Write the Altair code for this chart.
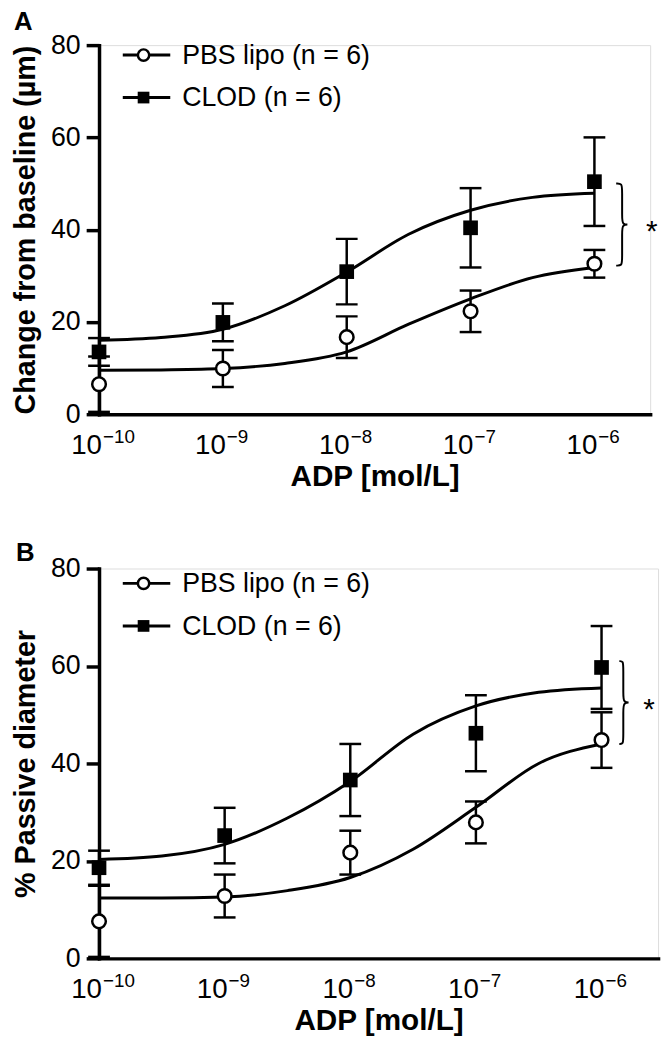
import altair as alt
import pandas as pd

# ---------------- data ----------------
adp_exponent = [-10, -9, -8, -7, -6]          # ADP = 10^exponent mol/L
fit_exponent = [-10, -9.5, -9, -8.5, -8, -7.5, -7, -6.5, -6]

# Panel A: change from baseline (um)
a_pbs_mean = [6.5, 9.9, 16.7, 22.3, 32.6]
a_pbs_sem = [6.0, 4.0, 4.5, 4.5, 3.0]
a_clod_mean = [13.5, 19.9, 30.9, 40.4, 50.4]
a_clod_sem = [3.0, 4.1, 7.1, 8.6, 9.6]
a_pbs_fit = [9.5, 9.6, 9.9, 11.0, 13.5, 19.5, 25.0, 29.6, 31.8]
a_clod_fit = [16.0, 16.6, 18.4, 23.5, 30.8, 39.0, 44.2, 47.0, 47.9]
a_brace = [32.2, 50.0]

# Panel B: % passive diameter
b_pbs_mean = [7.6, 12.8, 21.7, 27.9, 44.8]
b_pbs_sem = [7.3, 4.4, 4.5, 4.3, 5.7]
b_clod_mean = [18.6, 25.2, 36.6, 46.2, 59.7]
b_clod_sem = [3.5, 5.7, 7.4, 7.8, 8.5]
b_pbs_fit = [12.4, 12.4, 12.6, 13.9, 16.6, 22.4, 31.0, 40.0, 44.0]
b_clod_fit = [20.3, 21.0, 23.4, 28.8, 36.3, 46.0, 51.8, 54.6, 55.5]
b_brace = [44.0, 61.0]

series_labels = ["PBS lipo (n = 6)", "CLOD (n = 6)"]
tick_exponent = [-10, -9, -8, -7, -6]
tick_base = ["10", "10", "10", "10", "10"]
tick_power = ["\u221210", "\u22129", "\u22128", "\u22127", "\u22126"]
y_ticks = [0, 20, 40, 60, 80]

FONT = "Liberation Sans"
X_DOMAIN = [-10, -5.55]


def panel(letter, letter_pos, ytitle, pm, ps, cm, cs, pfit, cfit, brace, brace_px,
          w, h, leg_y):
    dec_px = w / (X_DOMAIN[1] - X_DOMAIN[0])
    xs = alt.Scale(domain=X_DOMAIN, nice=False, zero=False)
    ys = alt.Scale(domain=[0, 80], nice=False)
    xaxis = alt.Axis(title="ADP [mol/L]", labels=False, ticks=False, grid=False,
                     domainWidth=3.5, domainColor="black", domainCap="square",
                     titleFont=FONT, titleFontSize=30, titleFontWeight="bold",
                     titleColor="black", titlePadding=48)
    yaxis = alt.Axis(title=ytitle, values=y_ticks, grid=False, tickSize=13,
                     tickWidth=3.5, tickColor="black", domainWidth=3.5,
                     domainColor="black", domainCap="square", labelFont=FONT,
                     labelFontSize=27, labelColor="black", labelPadding=6,
                     titleFont=FONT, titleFontSize=29, titleFontWeight="bold",
                     titleColor="black", titlePadding=10)

    def X(f):
        return alt.X(f, type="quantitative", scale=xs, axis=xaxis)

    def Y(f):
        return alt.Y(f, type="quantitative", scale=ys, axis=yaxis)

    pts = pd.DataFrame({
        "x": adp_exponent * 2,
        "mean": pm + cm,
        "sem": ps + cs,
        "g": ["PBS"] * 5 + ["CLOD"] * 5,
    })
    pts["lo"] = pts["mean"] - pts["sem"]
    pts["hi"] = pts["mean"] + pts["sem"]
    fit = pd.DataFrame({
        "x": fit_exponent * 2,
        "y": pfit + cfit,
        "g": ["PBS"] * len(pfit) + ["CLOD"] * len(cfit),
    })

    err = alt.Chart(pts).mark_rule(strokeWidth=2.5, color="black").encode(
        x=X("x"), y=Y("lo"), y2="hi")
    cap_lo = alt.Chart(pts).mark_tick(orient="horizontal", size=22, thickness=2.5,
                                       color="black", opacity=1).encode(x=X("x"), y=Y("lo"))
    cap_hi = alt.Chart(pts).mark_tick(orient="horizontal", size=22, thickness=2.5,
                                       color="black", opacity=1).encode(x=X("x"), y=Y("hi"))
    curve = alt.Chart(fit).mark_line(interpolate="monotone", strokeWidth=3,
                                     color="black").encode(x=X("x"), y=Y("y"), detail="g:N")
    pbs_pts = alt.Chart(pts[pts.g == "PBS"]).mark_point(
        shape="circle", filled=True, fill="white", stroke="black", strokeWidth=2.5,
        size=190, opacity=1).encode(x=X("x"), y=Y("mean"))
    clod_pts = alt.Chart(pts[pts.g == "CLOD"]).mark_square(
        size=220, color="black", opacity=1).encode(x=X("x"), y=Y("mean"))

    # significance brace
    x_last = adp_exponent[-1]
    hook_px, spine_px, tip_px, star_px = brace_px
    hook = x_last + hook_px / dec_px
    spine = x_last + spine_px / dec_px
    tip = x_last + tip_px / dec_px
    lo_b, hi_b = brace
    mid = (lo_b + hi_b) / 2
    r = 1.5
    brace_df = pd.DataFrame({
        "x": [hook, spine, spine, spine, spine, tip, spine, spine, spine, spine, hook],
        "y": [hi_b, hi_b, hi_b - r, mid + r, mid, mid, mid, mid - r, lo_b + r, lo_b, lo_b],
        "o": list(range(11)),
    })
    brace_line = alt.Chart(brace_df).mark_line(interpolate="basis", strokeWidth=2,
                                               color="black").encode(
        x=X("x"), y=Y("y"), order="o:Q")
    star = alt.Chart(pd.DataFrame({"x": [x_last + star_px / dec_px], "y": [mid]})).mark_text(
        text="*", font=FONT, fontSize=30, color="black", baseline="alphabetic",
        dy=17).encode(x=X("x"), y=Y("y"))

    # x tick labels as 10^n
    ticks = pd.DataFrame({"x": tick_exponent, "b": tick_base, "p": tick_power})
    base_lbl = alt.Chart(ticks).mark_text(font=FONT, fontSize=28, color="black",
                                          align="right", baseline="alphabetic", dx=3).encode(
        x=X("x"), y=alt.value(h + 40), text="b:N")
    pow_lbl = alt.Chart(ticks).mark_text(font=FONT, fontSize=19, color="black",
                                         align="left", baseline="alphabetic", dx=4).encode(
        x=X("x"), y=alt.value(h + 29), text="p:N")

    # legend
    one = pd.DataFrame({"k": [0]})
    leg = []
    for i, lab in enumerate(series_labels):
        yy = leg_y[i]
        leg.append(alt.Chart(one).mark_rule(strokeWidth=3, color="black").encode(
            x=alt.value(24), x2=alt.value(72), y=alt.value(yy)))
        if i == 0:
            leg.append(alt.Chart(one).mark_point(shape="circle", filled=True, fill="white",
                                                 stroke="black", strokeWidth=2.5, size=130,
                                                 opacity=1).encode(
                x=alt.value(45), y=alt.value(yy)))
        else:
            leg.append(alt.Chart(one).mark_square(size=140, color="black", opacity=1).encode(
                x=alt.value(45), y=alt.value(yy)))
        leg.append(alt.Chart(one).mark_text(text=lab, font=FONT, fontSize=27, color="black",
                                            align="left", baseline="middle").encode(
            x=alt.value(84), y=alt.value(yy + 1)))

    letter_txt = alt.Chart(one).mark_text(text=letter, font=FONT, fontSize=26,
                                          fontWeight="bold", color="black", align="left",
                                          baseline="alphabetic").encode(
        x=alt.value(letter_pos[0]), y=alt.value(letter_pos[1]))

    return alt.layer(err, cap_lo, cap_hi, curve, pbs_pts, clod_pts, brace_line, star,
                     base_lbl, pow_lbl, *leg, letter_txt).properties(width=w, height=h)


pa = panel("A", (-86, -15), "Change from baseline (\u00b5m)", a_pbs_mean, a_pbs_sem,
           a_clod_mean, a_clod_sem, a_pbs_fit, a_clod_fit, a_brace, (22, 28, 36, 58),
           557, 373, [10, 53])
pb = panel("B", (-84, -8), "% Passive diameter", b_pbs_mean, b_pbs_sem,
           b_clod_mean, b_clod_sem, b_pbs_fit, b_clod_fit, b_brace, (18, 22, 30, 48),
           565, 394, [15, 58])

chart = alt.vconcat(pa, pb, spacing=47).properties(
    padding={"left": 3, "top": -5, "right": 5, "bottom": 0}
).configure_view(stroke=None).configure(background="white")

chart.save("out.html", embed_options={"renderer": "svg", "actions": False})
